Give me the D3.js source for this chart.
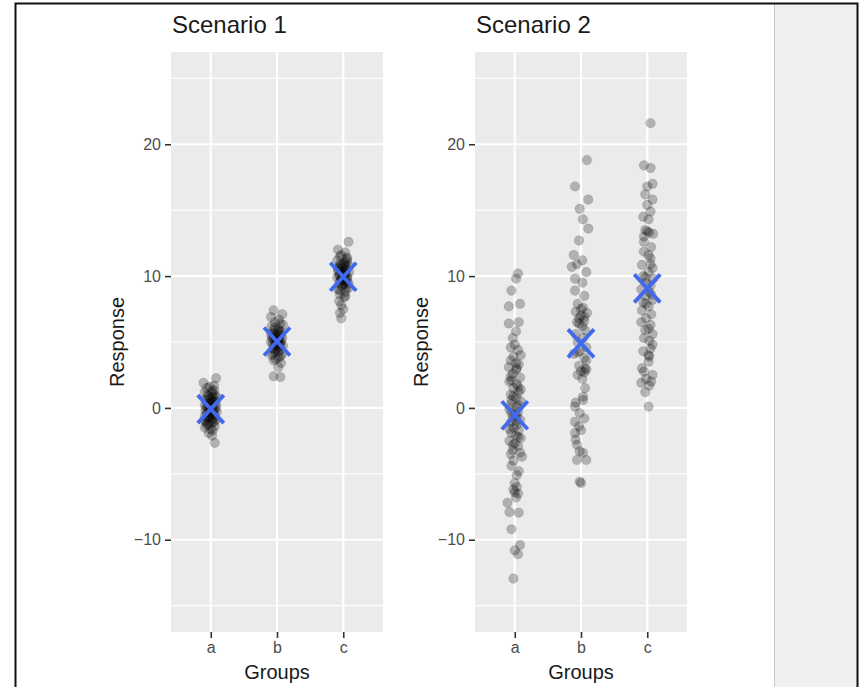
<!DOCTYPE html>
<html>
<head>
<meta charset="utf-8">
<script src="https://cdn.jsdelivr.net/npm/d3@7"></script>
<style>
body { margin: 0; background: #fff; }
svg { display: block; font-family: "Liberation Sans", Arial, sans-serif; }
</style>
</head>
<body>
<div id="chart"></div>
<script>
//categories, ticks and titles
const groups = ['a', 'b', 'c'];
const yTicks = [-10, 0, 10, 20];
const yMinor = [-15, -5, 5, 15, 25];
const yLimits = [-15, 25];
const titles = ['Scenario 1', 'Scenario 2'];

//each point is [response, jitter in category units]
const s1a = [[2.25,0.08],[1.9,-0.11],[1.7,0.05],[1.5,-0.06],[1.3,0.02],[1.2,-0.09],[1.1,0.02],[1.0,0.06],[0.9,-0.03],[0.8,0.09],
    [0.7,0],[0.6,-0.08],[0.5,0.03],[0.45,0.05],[0.4,-0.02],[0.3,0.08],[0.2,-0.09],[0.15,-0.06],[0.1,0.02],[0.0,-0.05],
    [-0.05,0.03],[-0.1,0.06],[-0.2,-0.02],[-0.3,0.09],[-0.35,0],[-0.4,-0.06],[-0.5,0.03],[-0.6,-0.09],[-0.65,-0.02],[-0.7,0.05],
    [-0.8,-0.03],[-0.9,0.08],[-1.0,-0.08],[-1.1,0.02],[-1.2,-0.05],[-1.3,-0.06],[-1.4,0.06],[-1.5,-0.09],[-1.7,0.03],[-1.9,-0.03],
    [-2.1,0.02],[-2.65,0.06],
    [0.95,-0.05],[0.55,0.06],[0.25,-0.03],[0.05,0.08],[-0.15,-0.08],[-0.25,0.04],[-0.45,0],[-0.55,0.06],[-0.75,-0.06],[-0.85,0.03],
    [-1.05,0.05],[-1.25,-0.02],[0.35,0],[0.65,-0.03],[-0.95,-0.09],[1.35,0.05],[-1.6,0],[1.6,-0.02],[0.85,0.03],[-0.05,-0.02]];
const s1b = [[7.4,-0.05],[7.1,0.08],[6.9,-0.09],[6.7,0.03],[6.5,-0.03],[6.3,0.09],[6.2,-0.08],[6.0,0.02],[5.9,-0.05],[5.8,0.06],
    [5.7,0.02],[5.6,-0.09],[5.5,0.03],[5.45,-0.05],[5.4,-0.02],[5.3,0.08],[5.2,-0.06],[5.15,0],[5.1,0.02],[5.0,-0.09],
    [4.95,0.03],[4.9,0.05],[4.8,-0.03],[4.7,0.09],[4.6,0],[4.5,-0.06],[4.4,0.05],[4.3,-0.03],[4.1,0.08],[4.0,-0.08],
    [3.8,0.02],[3.6,-0.05],[3.4,0.06],[3.1,0.02],[2.4,-0.05],[2.35,0.05],
    [5.05,0.06],[4.85,-0.06],[5.25,0.03],[4.75,-0.02],[5.35,-0.08],[4.65,0.05],[5.55,0.06],[4.45,-0.03],[5.65,-0.05],[4.25,0.02],
    [5.85,0.03],[4.15,-0.06],[6.1,-0.03],[3.9,0.05],[6.4,0.05],[3.7,-0.02],[5.0,0],[5.1,-0.03]];
const s1c = [[12.6,0.08],[12.0,-0.08],[11.8,0.03],[11.6,-0.03],[11.4,0.06],[11.3,0.05],[11.2,-0.09],[11.0,0.02],[10.95,0.02],[10.9,-0.05],
    [10.8,0.08],[10.7,-0.06],[10.6,-0.02],[10.5,0.05],[10.45,0.03],[10.4,-0.08],[10.3,0.09],[10.2,0],[10.15,0.02],[10.1,-0.05],
    [10.0,0.03],[9.9,-0.09],[9.85,-0.03],[9.8,0.06],[9.7,-0.02],[9.65,0],[9.6,0.05],[9.5,-0.06],[9.4,0.02],[9.3,-0.03],
    [9.1,0.08],[9.0,-0.08],[8.8,0.03],[8.6,-0.05],[8.4,0.02],[8.1,-0.06],[7.8,-0.03],[7.5,0],[7.2,-0.05],[6.8,-0.03],
    [10.05,-0.06],[9.95,0.06],[10.25,0.03],[9.75,-0.03],[10.55,-0.08],[9.45,0.08],[10.75,0.03],[9.25,-0.02],[10.85,-0.03],[9.15,0.05],
    [11.1,0.06],[8.9,-0.05],[11.5,-0.05],[8.5,0.03],[10.0,0],[10.35,-0.03],[9.55,0.02]];

const s2a = [[10.2,0.05],[9.8,0.02],[8.9,-0.05],[7.9,0.08],[7.7,-0.09],[6.5,0.06],[6.4,-0.09],[5.8,0.02],[5.3,-0.03],[4.8,0],
    [4.6,-0.06],[4.4,0.05],[4.0,0.09],[3.9,-0.02],[3.6,-0.06],[3.3,0.06],[3.1,-0.09],[3.0,0.03],[2.9,0.02],[2.6,-0.03],
    [2.3,0.08],[2.1,-0.05],[2.0,-0.08],[1.8,0.03],[1.5,-0.02],[1.4,0.09],[1.2,0.06],[1.0,-0.06],[0.8,0.02],[0.6,-0.05],
    [0.5,0.09],[0.3,-0.05],[0.1,0.03],[-0.1,-0.08],[-0.3,0.05],[-0.5,0],[-0.7,-0.03],[-0.9,0.08],[-1.1,-0.06],[-1.3,0.03],
    [-1.5,-0.02],[-1.7,0.06],[-1.9,-0.05],[-2.1,0.02],[-2.3,0.09],[-2.5,-0.08],[-2.7,0],[-2.9,0.05],[-3.2,-0.03],[-3.4,0.08],
    [-3.7,0.11],[-4.0,-0.02],[-4.4,-0.05],[-4.8,0.06],[-5.1,0.03],[-5.7,0],[-6.0,0.03],[-6.2,-0.02],[-6.5,0.05],[-6.8,0.02],
    [-7.2,-0.11],[-7.9,-0.08],[-7.95,0.06],[-9.2,-0.05],[-10.4,0.08],[-10.8,0],[-11.1,0.05],[-12.95,-0.02],
    [3.4,0.02],[2.4,-0.06],[1.6,0.05],[0.9,-0.02],[0.2,0.06],[-0.4,-0.05],[-1.0,0.02],[-1.6,-0.08],[-2.2,0.05],[-2.8,-0.03],
    [-3.5,-0.06],[-6.4,0],[-0.6,0.03]];
const s2b = [[18.8,0.09],[16.8,-0.09],[15.8,0.11],[15.1,-0.02],[14.3,0.03],[13.6,0.11],[12.7,-0.03],[11.6,-0.11],[11.2,0.02],[10.9,-0.06],
    [10.7,-0.14],[10.3,0.08],[9.8,-0.09],[9.5,0.02],[8.9,-0.09],[8.5,0.05],[7.9,-0.05],[7.6,0.03],[7.3,-0.08],[7.2,0.09],
    [7.0,0],[6.8,-0.03],[6.6,0.05],[6.5,-0.06],[6.2,0.02],[5.9,0.06],[5.6,-0.08],[5.3,0.03],[5.0,-0.05],[4.6,0.08],
    [4.3,-0.02],[4.1,-0.11],[3.8,0.05],[3.6,0.08],[3.2,-0.03],[2.9,0.08],[2.7,0.05],[2.5,-0.05],[2.2,0.02],[1.5,0.06],
    [0.85,0.03],[0.4,-0.08],[0.1,-0.09],[-0.4,-0.02],[-0.8,0.05],[-1.05,-0.09],[-1.4,-0.03],[-1.7,0],[-1.9,-0.09],[-2.4,-0.08],
    [-2.8,-0.06],[-3.3,-0.02],[-3.4,0.03],[-3.95,0.08],[-3.95,-0.06],[-5.6,-0.02],[-5.7,0],
    [7.5,0],[6.9,0.05],[6.4,-0.03],[3.0,0.06],[2.8,0],[4.2,-0.05],[0.6,0.03]];
const s2c = [[21.6,0.05],[18.4,-0.05],[18.2,0.05],[17.0,0.08],[16.8,0],[16.2,-0.03],[15.8,0.08],[15.4,0],[14.9,0.05],[14.5,-0.06],
    [14.3,0.02],[13.5,-0.03],[13.3,0.03],[13.2,0.09],[12.6,-0.05],[12.2,0.06],[11.85,-0.05],[11.6,0.02],[11.35,0.05],[10.85,-0.08],
    [10.6,0.08],[10.3,0.02],[10.0,-0.06],[9.8,0.09],[9.5,-0.02],[9.3,0.05],[9.0,-0.09],[8.8,0.03],[8.5,-0.03],[8.2,0.08],
    [8.0,-0.06],[7.7,0.02],[7.4,-0.08],[7.1,0.06],[6.8,-0.02],[6.5,-0.09],[6.3,0.05],[5.9,-0.03],[5.6,0.08],[5.3,-0.05],
    [5.1,0.03],[4.8,0.08],[4.3,-0.06],[4.0,0.02],[3.9,0.03],[3.5,0.02],[3.0,-0.08],[2.75,-0.05],[2.5,0.08],[2.2,-0.02],
    [2.0,0.06],[1.9,-0.09],[1.7,0.03],[1.2,-0.03],[0.1,0.02],
    [13.4,0],[13.0,-0.05],[10.9,0.05],[9.9,-0.03],[8.6,0.06],[7.9,-0.02],[6.0,0.02],[4.5,0.05]];

const scenarios = [[s1a, s1b, s1c], [s2a, s2b, s2c]];

//layout
const width = 862, height = 687;
const panelW = 212, panelH = 580;
const panelLeft = [171, 475], panelTop = 52;

let svg = d3.select('#chart')
    .append('svg')
    .attr('width', width)
    .attr('height', height);

//window frame and grey side area
svg.append('rect')
    .attr('x', 774).attr('y', 4)
    .attr('width', 83).attr('height', height)
    .attr('fill', '#f0f0f0');
svg.append('line')
    .attr('x1', 774.5).attr('x2', 774.5)
    .attr('y1', 4).attr('y2', height)
    .attr('stroke', '#c9c8d2');
svg.append('rect')
    .attr('x', 15.5).attr('y', 3.5)
    .attr('width', 842).attr('height', height + 10)
    .attr('fill', 'none')
    .attr('stroke', '#111')
    .attr('stroke-width', 2);

//shared scales
let x = d3.scalePoint().domain(groups).range([0, panelW]).padding(0.6);
let exp = (yLimits[1] - yLimits[0]) * 0.05;
let y = d3.scaleLinear().domain([yLimits[0] - exp, yLimits[1] + exp]).range([panelH, 0]);

scenarios.forEach(function(sc, i) {
    let g = svg.append('g')
        .attr('transform', `translate(${panelLeft[i]}, ${panelTop})`);

    //panel background and grid
    g.append('rect')
        .attr('width', panelW).attr('height', panelH)
        .attr('fill', '#ebebeb');
    g.selectAll('.minor')
        .data(yMinor)
        .enter().append('line')
        .attr('x1', 0).attr('x2', panelW)
        .attr('y1', function(d) { return y(d); })
        .attr('y2', function(d) { return y(d); })
        .attr('stroke', '#fff')
        .attr('stroke-width', 1.2);
    g.selectAll('.major')
        .data(yTicks)
        .enter().append('line')
        .attr('x1', 0).attr('x2', panelW)
        .attr('y1', function(d) { return y(d); })
        .attr('y2', function(d) { return y(d); })
        .attr('stroke', '#fff')
        .attr('stroke-width', 2.2);
    g.selectAll('.vgrid')
        .data(groups)
        .enter().append('line')
        .attr('x1', function(d) { return x(d); })
        .attr('x2', function(d) { return x(d); })
        .attr('y1', 0).attr('y2', panelH)
        .attr('stroke', '#fff')
        .attr('stroke-width', 2.2);

    //jittered points
    sc.forEach(function(pts, j) {
        g.append('g')
            .selectAll('circle')
            .data(pts)
            .enter().append('circle')
            .attr('cx', function(d) { return x(groups[j]) + d[1] * x.step(); })
            .attr('cy', function(d) { return y(d[0]); })
            .attr('r', 4.8)
            .attr('fill', '#000')
            .attr('fill-opacity', 0.25)
            .attr('stroke', '#000')
            .attr('stroke-opacity', 0.12)
            .attr('stroke-width', 0.8);
    });

    //group means as blue crosses
    sc.forEach(function(pts, j) {
        let cx = x(groups[j]);
        let cy = y(d3.mean(pts, function(d) { return d[0]; }));
        [[-1, -1, 1, 1], [-1, 1, 1, -1]].forEach(function(s) {
            g.append('line')
                .attr('x1', cx + s[0] * 13).attr('y1', cy + s[1] * 14)
                .attr('x2', cx + s[2] * 13).attr('y2', cy + s[3] * 14)
                .attr('stroke', '#4169ee')
                .attr('stroke-width', 3.8);
        });
    });

    //axes
    let yAxis = g.append('g')
        .call(d3.axisLeft(y).tickValues(yTicks).tickSize(6).tickPadding(4));
    let xAxis = g.append('g')
        .attr('transform', `translate(0, ${panelH})`)
        .call(d3.axisBottom(x).tickSize(6).tickPadding(4));
    [yAxis, xAxis].forEach(function(ax) {
        ax.select('.domain').remove();
        ax.selectAll('line').attr('stroke', '#333').attr('stroke-width', 1.6);
        ax.selectAll('text')
            .attr('fill', '#4d4d4d')
            .style('font-size', '16px')
            .style('font-family', '"Liberation Sans", Arial, sans-serif');
    });

    //titles
    g.append('text')
        .attr('x', 1).attr('y', -19)
        .style('font-size', '24px')
        .attr('fill', '#1a1a1a')
        .text(titles[i]);
    g.append('text')
        .attr('x', panelW / 2).attr('y', panelH + 47)
        .attr('text-anchor', 'middle')
        .style('font-size', '20px')
        .attr('fill', '#1a1a1a')
        .text('Groups');
    g.append('text')
        .attr('transform', `translate(-47, ${panelH / 2}) rotate(-90)`)
        .attr('text-anchor', 'middle')
        .style('font-size', '20px')
        .attr('fill', '#1a1a1a')
        .text('Response');
});
</script>
</body>
</html>
